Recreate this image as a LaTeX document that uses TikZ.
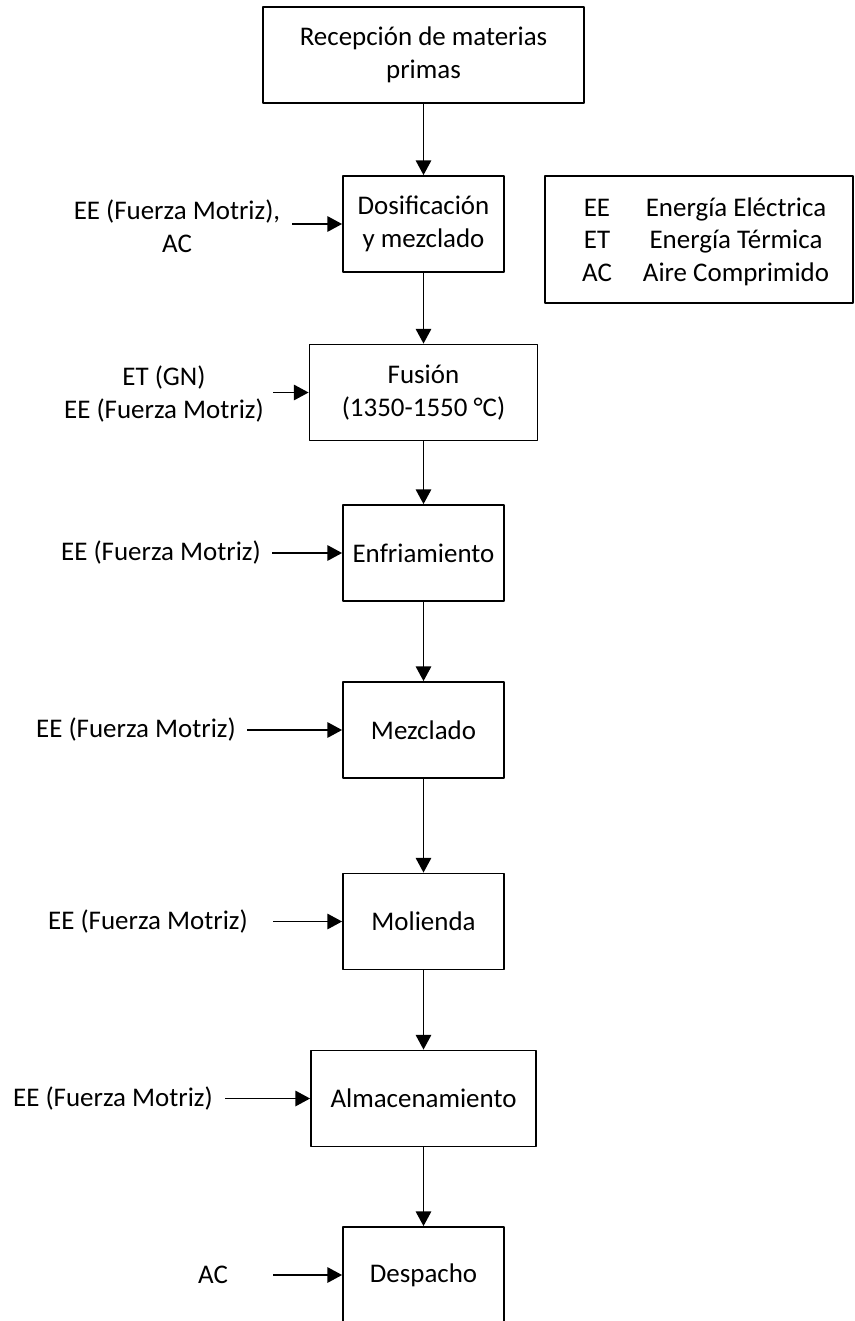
\documentclass[tikz,border=0pt]{standalone}
\usepackage{fontspec}
\setmainfont{Carlito}
\usetikzlibrary{arrows.meta}
\begin{document}
\begin{tikzpicture}[x=0.75pt, y=-0.75pt, line join=round, >={Triangle[length=11pt,width=11.5pt]},
	font=\fontsize{20.2}{24.8}\selectfont,
	caja/.style={draw, line width=1.35pt, align=center, inner sep=0pt, minimum height=72pt},
	flecha/.style={->, line width=1.35pt}]
	\useasboundingbox (0,0) rectangle (855,1321);
	% etapas
	\node[caja, minimum width=240.75pt] (R) at (423.5,55) {Recepción de materias\\primas};
	\node[caja, minimum width=120.75pt] (D) at (423.5,224) {Dosificación\\y mezclado};
	\node[caja, minimum width=171pt] (F) at (423.5,392.5) {Fusión\\(1350-1550 °C)};
	\node[caja, minimum width=120.75pt] (E) at (423.5,553) {Enfriamiento};
	\node[caja, minimum width=120.75pt] (M) at (423.5,730) {Mezclado};
	\node[caja, minimum width=120.75pt] (O) at (423.5,921.5) {Molienda};
	\node[caja, minimum width=168.75pt] (A) at (423.5,1098.5) {Almacenamiento};
	\node[caja, minimum width=120.75pt] (P) at (423.5,1275) {Despacho};
	\foreach \a/\b in {R/D,D/F,F/E,E/M,M/O,O/A,A/P} \draw[flecha] (\a.south) -- (\b.north);
	% entradas de energia
	\node[align=center] (lD) at (177,226) {EE (Fuerza Motriz),\\AC};
	\node[align=center] (lF) at (164,394) {ET (GN)\\EE (Fuerza Motriz)};
	\node (lE) at (161,553) {EE (Fuerza Motriz)};
	\node (lM) at (136,730) {EE (Fuerza Motriz)};
	\node (lO) at (148,922) {EE (Fuerza Motriz)};
	\node (lA) at (113,1099) {EE (Fuerza Motriz)};
	\node (lP) at (213,1275) {AC};
	\path
	(292,224) coordinate (iD)
	(273,392.5) coordinate (iF)
	(272,553) coordinate (iE)
	(247,730) coordinate (iM)
	(273,921.5) coordinate (iO)
	(225,1098.5) coordinate (iA)
	(273,1275) coordinate (iP)
	;
	\foreach \x in {D,F,E,M,O,A,P} \draw[flecha] (i\x) -- (\x);
	% leyenda
	\node[draw, line width=1.35pt, minimum width=231pt, minimum height=95.25pt] (ley) at (699,239.5) {};
	\foreach \s/\d/\y in {EE/Energía Eléctrica/216,ET/Energía Térmica/248.5,AC/Aire Comprimido/281}
	{\node[anchor=base] (s\s) at (597,\y) {\s}; \node[anchor=base] (d\s) at (736,\y) {\d};}
\end{tikzpicture}
\end{document}
